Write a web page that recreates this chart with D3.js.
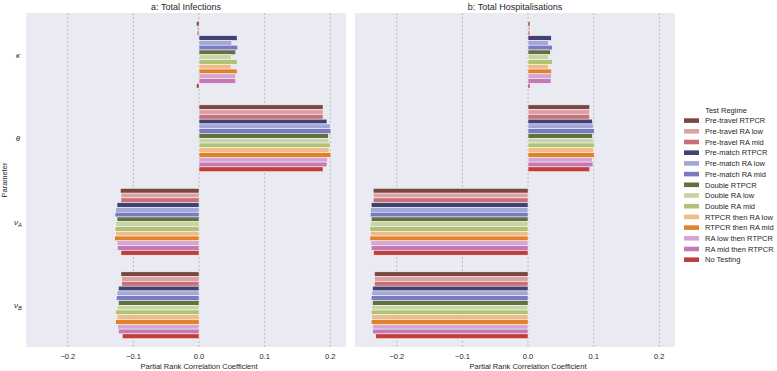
<!DOCTYPE html>
<html lang="en">
<head>
    <meta charset="UTF-8">
    <title>PRCC</title>
    <script src="https://d3js.org/d3.v7.min.js"></script>
    <style>
        body { margin: 0; background: #fff; }
        text { font-family: "Liberation Sans", Arial, sans-serif; fill: #262626; }
    </style>
</head>
<body>
<svg width="777" height="371"></svg>
<script>
    // data
    const params = ["kappa", "theta", "nuA", "nuB"];
    const regimes = ["Pre-travel RTPCR", "Pre-travel RA low", "Pre-travel RA mid",
        "Pre-match RTPCR", "Pre-match RA low", "Pre-match RA mid",
        "Double RTPCR", "Double RA low", "Double RA mid",
        "RTPCR then RA low", "RTPCR then RA mid",
        "RA low then RTPCR", "RA mid then RTPCR", "No Testing"];
    const regimeColors = ["#843c39", "#e7969c", "#d6616b",
        "#393b79", "#9c9ede", "#6b6ecf",
        "#637939", "#cedb9c", "#b5cf6b",
        "#ffbb78", "#ff7f0e",
        "#de9ed6", "#ce6dbd", "#d62728"];
    const xTicks = [-0.2, -0.1, 0.0, 0.1, 0.2];

    // values per parameter, one per regime (same order as regimes)
    const infections = {
        kappa: [-0.004, -0.003, -0.003, 0.058, 0.050, 0.059, 0.056, 0.049, 0.058, 0.049, 0.058, 0.056, 0.056, -0.004],
        theta: [0.189, 0.189, 0.189, 0.195, 0.200, 0.201, 0.197, 0.198, 0.200, 0.198, 0.201, 0.196, 0.195, 0.189],
        nuA: [-0.120, -0.119, -0.119, -0.125, -0.127, -0.128, -0.125, -0.127, -0.128, -0.127, -0.1285, -0.125, -0.1245, -0.119],
        nuB: [-0.119, -0.118, -0.118, -0.123, -0.125, -0.126, -0.123, -0.125, -0.127, -0.125, -0.127, -0.124, -0.123, -0.117]
    };
    const hospitalisations = {
        kappa: [0.003, 0.003, 0.003, 0.0355, 0.031, 0.037, 0.034, 0.031, 0.037, 0.031, 0.036, 0.0355, 0.035, 0.003],
        theta: [0.094, 0.094, 0.094, 0.098, 0.0995, 0.101, 0.098, 0.0995, 0.101, 0.0995, 0.101, 0.098, 0.099, 0.094],
        nuA: [-0.236, -0.236, -0.236, -0.239, -0.240, -0.2405, -0.239, -0.2405, -0.241, -0.2405, -0.241, -0.2395, -0.239, -0.2355],
        nuB: [-0.234, -0.234, -0.234, -0.237, -0.238, -0.239, -0.237, -0.238, -0.239, -0.238, -0.239, -0.237, -0.237, -0.232]
    };

    // seaborn style desaturation (0.75)
    function desat(c) {
        const h = d3.hsl(c);
        h.s *= 0.75;
        return h.formatHex();
    }
    const color = d3.scaleOrdinal().domain(regimes).range(regimeColors.map(desat));

    const svg = d3.select("svg");
    const plotTop = 13, plotBottom = 347;

    const y = d3.scaleBand().domain(params).range([plotTop, plotBottom]).paddingInner(0.2).paddingOuter(0.1);
    const yFull = d3.scaleBand().domain(params).range([plotTop, plotBottom]);
    const yHue = d3.scaleBand().domain(regimes).range([0, y.bandwidth()]);

    const panels = [
        {title: "a: Total Infections", data: infections, x0: 26, x1: 346},
        {title: "b: Total Hospitalisations", data: hospitalisations, x0: 355, x1: 675}
    ];

    panels.forEach(function(p) {
        const x = d3.scaleLinear().domain([-0.2637, 0.224]).range([p.x0, p.x1]);
        const g = svg.append("g");

        g.append("rect")
            .attr("x", p.x0).attr("y", plotTop)
            .attr("width", p.x1 - p.x0).attr("height", plotBottom - plotTop)
            .attr("fill", "#eaeaf2");

        // grid
        g.selectAll(".grid").data(xTicks).enter().append("line")
            .attr("x1", d => x(d)).attr("x2", d => x(d))
            .attr("y1", plotTop).attr("y2", plotBottom)
            .attr("stroke", "#a8a8a8")
            .attr("stroke-width", 0.7)
            .attr("stroke-dasharray", "2,2");

        // bars
        params.forEach(function(par) {
            const vals = p.data[par];
            g.selectAll(".bar-" + par).data(regimes).enter().append("rect")
                .attr("x", (d, k) => x(Math.min(0, vals[k])))
                .attr("width", (d, k) => Math.abs(x(vals[k]) - x(0)))
                .attr("y", d => y(par) + yHue(d))
                .attr("height", yHue.bandwidth())
                .attr("fill", d => color(d))
                .attr("stroke", "#fff")
                .attr("stroke-width", 0.5);
        });

        // x axis labels
        g.selectAll(".xt").data(xTicks).enter().append("text")
            .attr("x", d => x(d)).attr("y", 359)
            .attr("text-anchor", "middle")
            .style("font-size", "7.5px")
            .text(d => d3.format(".1f")(d).replace("-", "\u2212"));

        g.append("text")
            .attr("x", x(0)).attr("y", 369)
            .attr("text-anchor", "middle")
            .style("font-size", "7.5px")
            .text("Partial Rank Correlation Coefficient");

        g.append("text")
            .attr("x", (p.x0 + p.x1) / 2).attr("y", 9.5)
            .attr("text-anchor", "middle")
            .style("font-size", "9px")
            .text(p.title);
    });

    // y tick labels
    const yl = svg.append("g").selectAll("text").data(params).enter().append("text")
        .attr("x", 18)
        .attr("y", d => yFull(d) + yFull.bandwidth() / 2 + 3)
        .attr("text-anchor", "middle")
        .style("font-size", "8px")
        .style("font-style", "italic");
    yl.filter(d => d === "kappa").text("\u03ba");
    yl.filter(d => d === "theta").text("\u03b8");
    yl.filter(d => d === "nuA" || d === "nuB").each(function(d) {
        const t = d3.select(this);
        t.append("tspan").text("\u03bd");
        t.append("tspan").attr("dy", 2).style("font-size", "5.8px").text(d === "nuA" ? "A" : "B");
    });

    svg.append("text")
        .attr("transform", `translate(7,${(plotTop + plotBottom) / 2}) rotate(-90)`)
        .attr("text-anchor", "middle")
        .style("font-size", "7.5px")
        .text("Parameter");

    // legend
    const lx = 684, ly = 120.6, step = 10.7;
    svg.append("text")
        .attr("x", 726).attr("y", ly - 8)
        .attr("text-anchor", "middle")
        .style("font-size", "7.5px")
        .text("Test Regime");
    const li = svg.selectAll(".leg").data(regimes).enter().append("g")
        .attr("transform", (d, k) => `translate(${lx},${ly + k * step})`);
    li.append("rect")
        .attr("x", 0).attr("y", -2.3)
        .attr("width", 15).attr("height", 4.6)
        .attr("fill", d => color(d));
    li.append("text")
        .attr("x", 21).attr("y", 2.7)
        .style("font-size", "7.5px")
        .text(d => d);
</script>
</body>
</html>
